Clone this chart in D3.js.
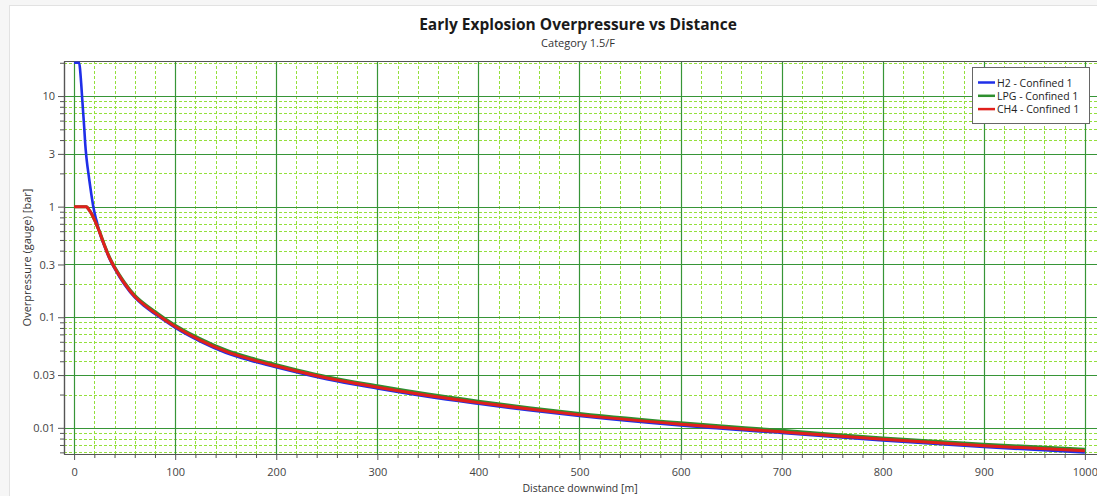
<!DOCTYPE html>
<html>
<head>
<meta charset="utf-8">
<script src="https://cdn.jsdelivr.net/npm/d3@7"></script>
<style>
  html, body { margin: 0; padding: 0; background: #ffffff; }
  svg { display: block; }
</style>
</head>
<body>
<svg id="chart" width="1097" height="496"></svg>
<script>
// ---------------- data ----------------
const title = "Early Explosion Overpressure vs Distance";
const subtitle = "Category 1.5/F";
const xAxisTitle = "Distance downwind [m]";
const yAxisTitle = "Overpressure (gauge) [bar]";

const distance = [0, 5, 6, 7, 8, 9, 10, 11, 12, 13, 14, 15, 17, 19, 21, 23, 25, 30, 35, 40, 45, 50, 60, 70, 80, 90, 100, 125, 150, 175, 200, 250, 300, 350, 400, 450, 500, 600, 700, 800, 900, 1000];

const h2Values  = [20, 20, 17, 13, 9.5, 7, 5.2, 3.7, 2.9, 2.4, 2.05, 1.75, 1.3, 1.0, 0.82, 0.7, 0.59, 0.44, 0.338, 0.276, 0.231, 0.197, 0.151, 0.125, 0.107, 0.0925, 0.0805, 0.0603, 0.0478, 0.0405, 0.0353, 0.0275, 0.0227, 0.0191, 0.0165, 0.0144, 0.0128, 0.0105, 0.0090, 0.0077, 0.0067, 0.0060];
const lpgValues = [1.0, 1.0, 1.0, 1.0, 1.0, 1.0, 1.0, 1.0, 1.0, 0.985, 0.955, 0.93, 0.87, 0.8, 0.73, 0.66, 0.6, 0.452, 0.35, 0.286, 0.241, 0.206, 0.158, 0.131, 0.1125, 0.097, 0.0848, 0.0637, 0.0506, 0.0428, 0.0373, 0.029, 0.024, 0.0202, 0.0174, 0.0152, 0.0135, 0.0111, 0.0095, 0.0081, 0.0071, 0.0064];
const ch4Values = [1.0, 1.0, 1.0, 1.0, 1.0, 1.0, 1.0, 1.0, 1.0, 0.985, 0.955, 0.93, 0.87, 0.8, 0.73, 0.66, 0.595, 0.446, 0.344, 0.281, 0.236, 0.201, 0.154, 0.128, 0.1095, 0.0945, 0.0825, 0.0618, 0.0492, 0.0416, 0.0362, 0.0282, 0.0233, 0.0196, 0.0169, 0.0148, 0.0131, 0.0108, 0.0092, 0.0079, 0.0069, 0.0062];

const seriesNames = ["H2 - Confined 1", "LPG - Confined 1", "CH4 - Confined 1"];
const seriesColors = ["#1f2fe8", "#2e8f2e", "#e0201c"];

const xTickValues = [0, 100, 200, 300, 400, 500, 600, 700, 800, 900, 1000];
const yTickValues = [10, 3, 1, 0.3, 0.1, 0.03, 0.01];
const yTickLabels = ["10", "3", "1", "0.3", "0.1", "0.03", "0.01"];

// ---------------- layout ----------------
const svg = d3.select("#chart");
const W = 1097, H = 496;
const plot = { left: 64, top: 61, right: 1097, bottom: 454 };
const fontFam = "'Open Sans', 'Noto Sans', sans-serif";

// outer frame
svg.append("rect").attr("x", 0).attr("y", 0).attr("width", W).attr("height", H).attr("fill", "#f6f6f6");
svg.append("rect").attr("x", 9.5).attr("y", 5.5).attr("width", W - 9).attr("height", H - 5)
  .attr("fill", "#ffffff").attr("stroke", "#e2e2e2");

const x = d3.scaleLinear().domain([-10, 1012]).range([plot.left, plot.right]);
const y = d3.scaleLog().domain([0.0058, 20.75]).range([plot.bottom, plot.top]);

// grid values
const xMinor = d3.range(20, 1001, 20).filter(v => v % 100 !== 0);
const yMinor = [];
[0.001, 0.01, 0.1, 1, 10].forEach(d => {
  for (let k = 1; k <= 9; k++) {
    const v = +(d * k).toPrecision(3);
    if (v >= 0.0058 && v <= 20.75 && !yTickValues.some(t => Math.abs(t - v) < 1e-9)) yMinor.push(v);
  }
});

const g = svg.append("g");
// minor grid
g.append("g").selectAll("line").data(xMinor).join("line")
  .attr("x1", d => Math.round(x(d)) + 0.5).attr("x2", d => Math.round(x(d)) + 0.5)
  .attr("y1", plot.top).attr("y2", plot.bottom)
  .attr("stroke", "#94e03c").attr("stroke-dasharray", "3,2").attr("stroke-width", 1);
g.append("g").selectAll("line").data(yMinor).join("line")
  .attr("y1", d => Math.round(y(d)) + 0.5).attr("y2", d => Math.round(y(d)) + 0.5)
  .attr("x1", plot.left).attr("x2", plot.right)
  .attr("stroke", "#94e03c").attr("stroke-dasharray", "3,2").attr("stroke-width", 1);
// major grid
g.append("g").selectAll("line").data(xTickValues).join("line")
  .attr("x1", d => Math.round(x(d)) + 0.5).attr("x2", d => Math.round(x(d)) + 0.5)
  .attr("y1", plot.top).attr("y2", plot.bottom)
  .attr("stroke", "#379537").attr("stroke-width", 1.2);
g.append("g").selectAll("line").data(yTickValues).join("line")
  .attr("y1", d => Math.round(y(d)) + 0.5).attr("y2", d => Math.round(y(d)) + 0.5)
  .attr("x1", plot.left).attr("x2", plot.right)
  .attr("stroke", "#379537").attr("stroke-width", 1.2);

// top border
svg.append("line").attr("x1", plot.left).attr("x2", plot.right).attr("y1", plot.top + 0.5).attr("y2", plot.top + 0.5)
  .attr("stroke", "#555").attr("stroke-width", 1.2);

// axes
const xAxisMajor = d3.axisBottom(x).tickValues(xTickValues).tickSize(6).tickSizeOuter(0).tickFormat(d3.format("d"));
const xAxisMinor = d3.axisBottom(x).tickValues(xMinor).tickSize(4).tickSizeOuter(0).tickFormat("");
const yAxisMajor = d3.axisLeft(y).tickValues(yTickValues).tickSize(6).tickSizeOuter(0)
  .tickFormat((d, i) => yTickLabels[i]);
const yAxisMinor = d3.axisLeft(y).tickValues(yMinor).tickSize(4).tickSizeOuter(0).tickFormat("");

function styleAxis(sel) {
  sel.selectAll(".domain").attr("stroke", "#555").attr("stroke-width", 1.2);
  sel.selectAll(".tick line").attr("stroke", "#555");
  sel.selectAll(".tick text").attr("fill", "#444").style("font-family", fontFam).style("font-size", "11px");
}
const gxMinor = svg.append("g").attr("transform", `translate(0,${plot.bottom})`).call(xAxisMinor); styleAxis(gxMinor);
const gx = svg.append("g").attr("transform", `translate(0,${plot.bottom})`).call(xAxisMajor); styleAxis(gx);
gx.selectAll(".tick text").attr("y", 22).attr("dy", "0");
const gyMinor = svg.append("g").attr("transform", `translate(${plot.left},0)`).call(yAxisMinor); styleAxis(gyMinor);
const gy = svg.append("g").attr("transform", `translate(${plot.left},0)`).call(yAxisMajor); styleAxis(gy);
gy.selectAll(".tick text").attr("x", -9);

// lines
const seriesValues = [h2Values, lpgValues, ch4Values];
const line = d3.line().x(d => x(d[0])).y(d => y(d[1])).curve(d3.curveMonotoneX);
const lineG = svg.append("g");
seriesValues.forEach((vals, i) => {
  const pts = distance.map((d, j) => [d, vals[j]]);
  lineG.append("path").datum(pts).attr("d", line)
    .attr("fill", "none").attr("stroke", seriesColors[i])
    .attr("stroke-width", i === 0 ? 2.6 : 3).attr("stroke-linejoin", "round");
});

// titles
svg.append("text").attr("x", 578).attr("y", 30).attr("text-anchor", "middle")
  .style("font-family", fontFam).style("font-size", "15.5px").style("font-weight", "bold").attr("fill", "#1a1a1a")
  .text(title);
svg.append("text").attr("x", 578).attr("y", 47).attr("text-anchor", "middle")
  .style("font-family", fontFam).style("font-size", "11px").attr("fill", "#333")
  .text(subtitle);
svg.append("text").attr("x", 580).attr("y", 492).attr("text-anchor", "middle")
  .style("font-family", fontFam).style("font-size", "10.5px").attr("fill", "#333")
  .text(xAxisTitle);
svg.append("text").attr("transform", `translate(31,${(plot.top + plot.bottom) / 2}) rotate(-90)`).attr("text-anchor", "middle")
  .style("font-family", fontFam).style("font-size", "11px").attr("fill", "#333")
  .text(yAxisTitle);

// legend
const lg = svg.append("g").attr("transform", "translate(972,67)");
lg.append("rect").attr("x", 0.5).attr("y", 0.5).attr("width", 117).attr("height", 56)
  .attr("fill", "#fff").attr("stroke", "#666");
seriesNames.forEach((name, i) => {
  const yy = 15.5 + i * 13.3;
  lg.append("line").attr("x1", 6).attr("x2", 23).attr("y1", yy).attr("y2", yy)
    .attr("stroke", seriesColors[i]).attr("stroke-width", 2.5);
  lg.append("text").attr("x", 25).attr("y", yy + 4)
    .style("font-family", fontFam).style("font-size", "10.5px").attr("fill", "#222").text(name);
});
</script>
</body>
</html>
